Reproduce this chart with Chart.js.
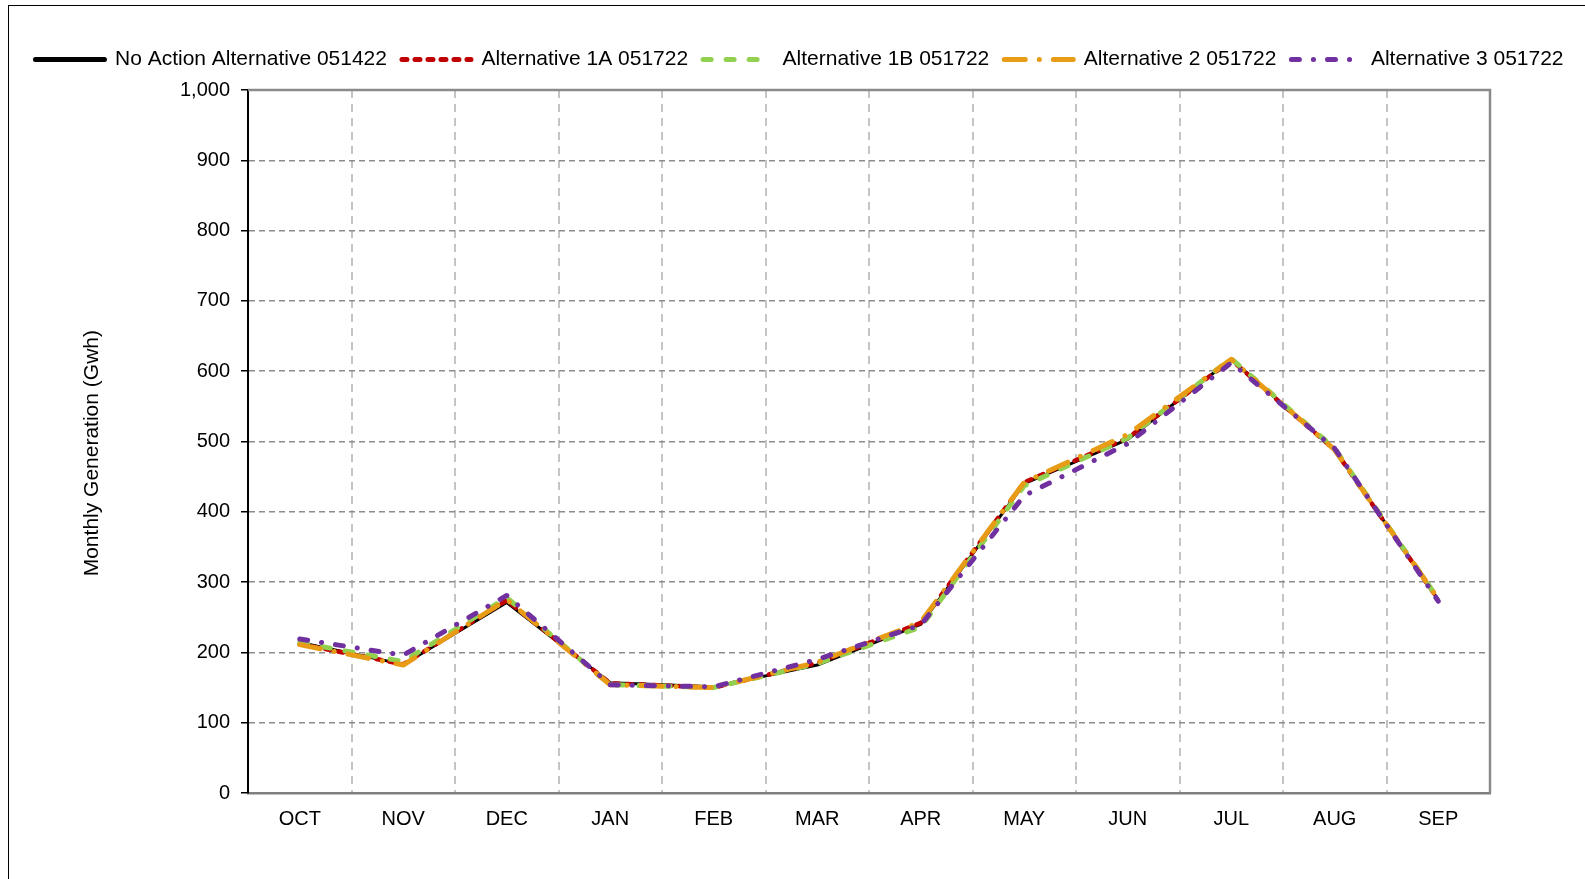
<!DOCTYPE html>
<html>
<head>
<meta charset="utf-8">
<script src="https://cdn.jsdelivr.net/npm/chart.js@4.4.0/dist/chart.umd.min.js"></script>
<style>
    html, body { margin: 0; padding: 0; background: #fff; }
    #wrap { position: relative; width: 1585px; height: 879px; }
    #frame {
        position: absolute; left: 8px; top: 5px; right: 0; bottom: 0;
        border-top: 1px solid #000; border-left: 1px solid #000;
        pointer-events: none;
    }
</style>
</head>
<body>
<div id="wrap">
    <canvas id="gen-chart" width="1585" height="879"></canvas>
    <div id="frame"></div>
</div>
<script>
// Geração mensal (GWh) por alternativa
const months = ['OCT', 'NOV', 'DEC', 'JAN', 'FEB', 'MAR', 'APR', 'MAY', 'JUN', 'JUL', 'AUG', 'SEP'];

const noAction = [214, 183, 271, 157, 151, 182, 240, 440, 503, 617, 488, 275];
const alt1A    = [212, 183, 274, 156, 150, 185, 242, 442, 505, 616, 488, 275];
const alt1B    = [214, 187, 278, 154, 150, 184, 236, 437, 505, 618, 490, 276];
const alt2     = [211, 182, 275, 154, 150, 186, 243, 442, 510, 617, 488, 276];
const alt3     = [219, 196, 281, 154, 151, 190, 239, 423, 497, 612, 490, 273];

const yMin = 0;
const yMax = 1000;
const yStep = 100;

const FONT = 'Liberation Sans, Arial, sans-serif';

function series(label, data, color, width, dash, order) {
    return {
        label,
        data,
        borderColor: color,
        backgroundColor: color,
        borderWidth: width,
        borderDash: dash,
        borderCapStyle: 'round',
        borderJoinStyle: 'round',
        pointRadius: 0,
        pointHoverRadius: 0,
        tension: 0,
        fill: false,
        order
    };
}

// legenda com o mesmo traço das séries (um pouco mais grossa)
function legendLabels(chart) {
    const items = Chart.defaults.plugins.legend.labels.generateLabels(chart);
    items.forEach(item => {
        const ds = chart.data.datasets[item.datasetIndex];
        item.lineDash = ds.borderDash;
        item.lineWidth = Math.max(ds.borderWidth, 5);
        item.lineCap = ds.borderCapStyle;
        item.strokeStyle = ds.borderColor;
        item.pointStyle = 'line';
    });
    return items.sort((a, b) => a.datasetIndex - b.datasetIndex);
}

// moldura cinza (topo e direita) da área do gráfico
const plotFrame = {
    id: 'plotFrame',
    beforeDatasetsDraw(chart) {
        const { ctx, chartArea: a } = chart;
        ctx.save();
        ctx.strokeStyle = '#8a8a8a';
        ctx.lineWidth = 2.5;
        ctx.beginPath();
        ctx.moveTo(a.left, a.top);
        ctx.lineTo(a.right, a.top);
        ctx.lineTo(a.right, a.bottom);
        ctx.stroke();
        ctx.restore();
    }
};

new Chart(document.getElementById('gen-chart').getContext('2d'), {
    type: 'line',
    data: {
        labels: months,
        datasets: [
            series('No Action Alternative 051422', noAction, '#000000', 3, [], 5),
            series('Alternative 1A 051722', alt1A, '#C00000', 4.5, [5, 8], 4),
            series('Alternative 1B 051722', alt1B, '#92D050', 5, [8, 15], 3),
            series('Alternative 2 051722', alt2, '#E89B14', 5, [21, 14, 0.1, 14], 2),
            series('Alternative 3 051722', alt3, '#7030A0', 5, [8, 14, 0.1, 14], 1)
        ]
    },
    options: {
        responsive: false,
        animation: false,
        layout: { padding: { left: 14, right: 0, top: 34, bottom: 0 } },
        plugins: {
            legend: {
                position: 'top',
                align: 'center',
                labels: {
                    usePointStyle: true,
                    pointStyle: 'line',
                    pointStyleWidth: 69,
                    padding: 15,
                    color: '#000',
                    font: { family: FONT, size: 21 },
                    generateLabels: legendLabels
                }
            },
            tooltip: { enabled: false }
        },
        scales: {
            x: {
                type: 'category',
                offset: true,
                grid: {
                    offset: true,
                    drawTicks: false,
                    color: '#c4c4c4',
                    lineWidth: 2
                },
                border: { display: true, color: '#808080', width: 2.5, dash: [8, 6] },
                ticks: {
                    color: '#000',
                    padding: 14,
                    font: { family: FONT, size: 20 }
                },
                afterFit(scale) { scale.height = 86; }
            },
            xTop: {
                type: 'linear',
                position: 'top',
                display: true,
                grid: { display: false, drawTicks: false },
                border: { display: false },
                ticks: { display: false },
                afterFit(scale) { scale.height = 10; }
            },
            y: {
                min: yMin,
                max: yMax,
                ticks: {
                    stepSize: yStep,
                    color: '#000',
                    padding: 11,
                    font: { family: FONT, size: 20 }
                },
                grid: {
                    color: '#8c8c8c',
                    lineWidth: 1.5,
                    tickColor: '#000',
                    tickLength: 7,
                    tickWidth: 1.5,
                    tickBorderDash: []
                },
                border: { display: true, color: '#000', width: 2, dash: [6, 4] },
                title: {
                    display: true,
                    text: 'Monthly Generation (Gwh)    ',
                    color: '#000',
                    padding: { top: 66, bottom: 0 },
                    font: { family: FONT, size: 21 }
                },
                afterFit(scale) { scale.width = 234; }
            },
            yRight: {
                type: 'linear',
                position: 'right',
                display: true,
                grid: { display: false, drawTicks: false },
                border: { display: false },
                ticks: { display: false },
                afterFit(scale) { scale.width = 95; }
            }
        }
    },
    plugins: [plotFrame]
});
</script>
</body>
</html>
